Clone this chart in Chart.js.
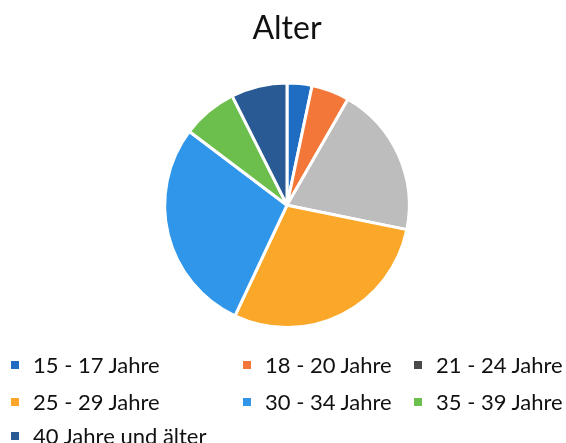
<!DOCTYPE html>
<html>
<head>
<meta charset="utf-8">
<script src="https://cdn.jsdelivr.net/npm/chart.js@4.4.1/dist/chart.umd.min.js"></script>
<style>
  body { margin: 0; background: #fff; }
  #wrap { position: relative; width: 566px; height: 443px; }
  #legend { position: absolute; left: 0; top: 0; width: 566px; height: 443px; pointer-events: none;
            font-family: Lato, "Open Sans", sans-serif; font-size: 22px; color: #111; }
  .item { position: absolute; white-space: nowrap; line-height: 24px; }
  .box { position: absolute; width: 8px; height: 8px; top: 8px; }
</style>
</head>
<body>
<div id="wrap">
  <canvas id="myChart" width="566" height="443"></canvas>
  <div id="legend"></div>
</div>
<script>
// Altersgruppen (Anteile in %)
var labels = ['15 - 17 Jahre', '18 - 20 Jahre', '21 - 24 Jahre', '25 - 29 Jahre', '30 - 34 Jahre', '35 - 39 Jahre', '40 Jahre und älter'];
var values = [3.3, 5.0, 19.9, 28.8, 28.3, 7.3, 7.4];
var colors = ['#1f6dc2', '#f4773a', '#bdbdbd', '#fba82a', '#2f96e9', '#6cbf4c', '#2a5a94'];
var legendColors = ['#1f6dc2', '#f4773a', '#4a4a4a', '#fba82a', '#2f96e9', '#6cbf4c', '#2a5a94'];

var ctx = document.getElementById('myChart').getContext('2d');
var chart = new Chart(ctx, {
    type: 'pie',
    data: {
        labels: labels,
        datasets: [{
            data: values,
            backgroundColor: colors,
            borderColor: '#ffffff',
            borderWidth: 3,
            hoverOffset: 0
        }]
    },
    options: {
        responsive: false,
        animation: false,
        layout: { padding: { left: 8, right: 0, top: 0, bottom: 114 } },
        plugins: {
            legend: { display: false },
            tooltip: { enabled: false },
            title: {
                display: true,
                text: 'Alter',
                color: '#111',
                font: { family: 'Lato', size: 32, weight: 'normal' },
                padding: { top: 9, bottom: 34 }
            }
        }
    }
});

// Legende wie in Excel: 3 Spalten
var colX = [11, 243, 414];
var rowY = [353, 390, 424];
var lg = document.getElementById('legend');
labels.forEach(function (lab, i) {
    var col = i % 3, row = Math.floor(i / 3);
    var d = document.createElement('div');
    d.className = 'item';
    d.style.left = colX[col] + 'px';
    d.style.top = rowY[row] + 'px';
    d.style.paddingLeft = '22px';
    d.innerHTML = '<span class="box" style="left:0;background:' + legendColors[i] + '"></span>' + lab;
    lg.appendChild(d);
});
</script>
</body>
</html>
